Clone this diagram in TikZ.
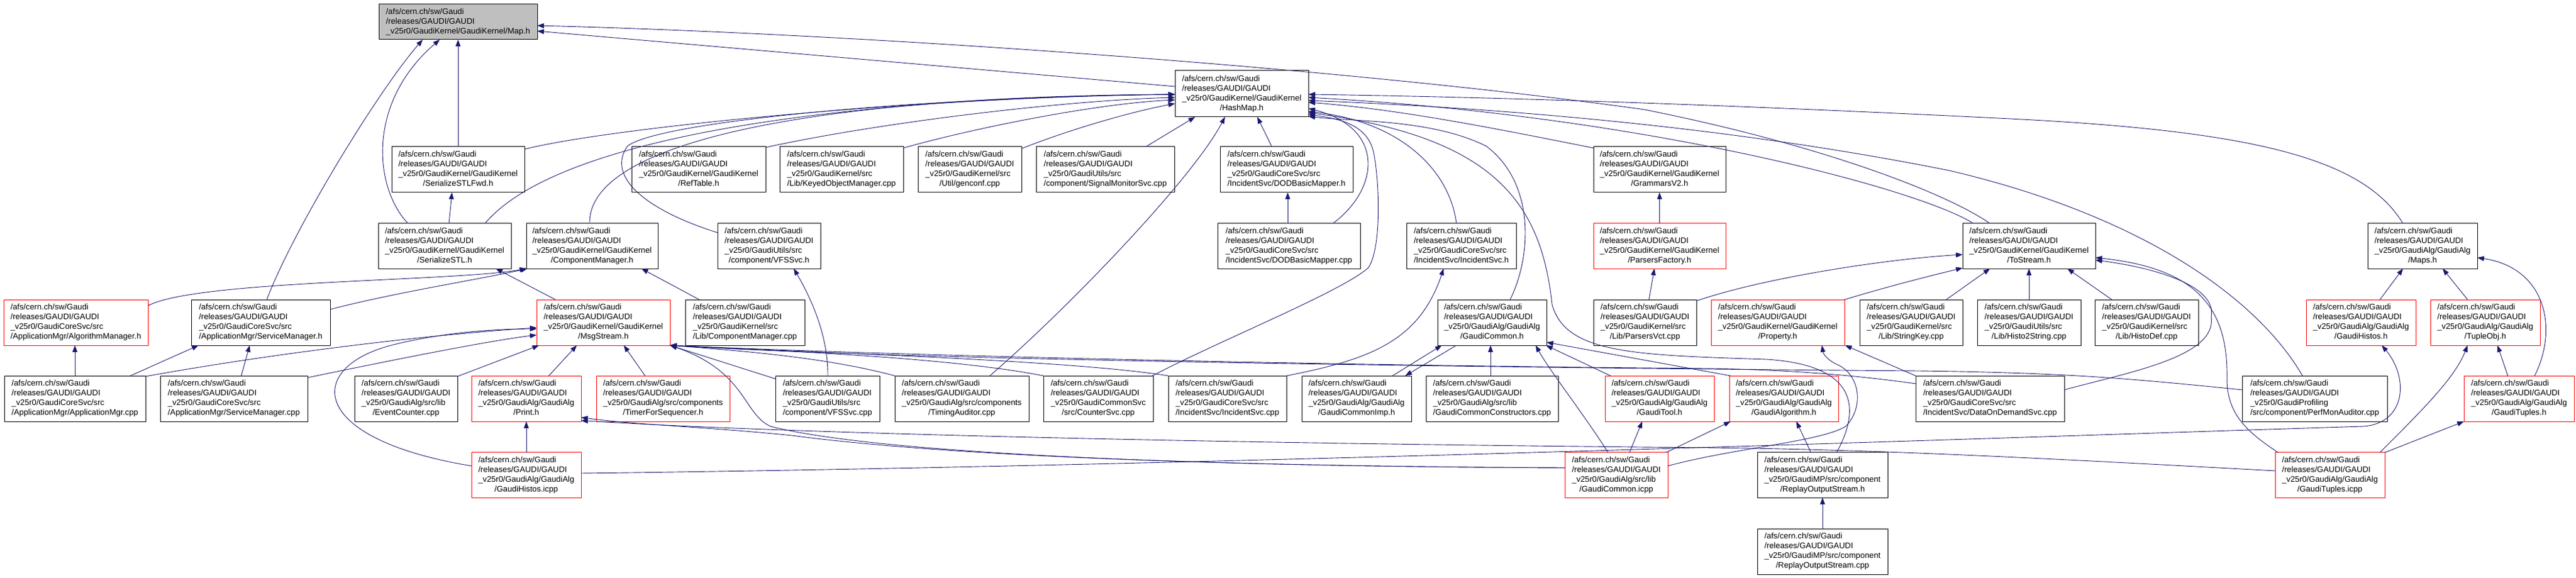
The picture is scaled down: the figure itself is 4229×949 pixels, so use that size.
\documentclass[tikz,border=0pt]{standalone}
\usepackage{fontspec}
\setmainfont{Liberation Sans}
\usetikzlibrary{arrows.meta,calc}
\definecolor{mblue}{RGB}{25,25,112}
\definecolor{gfill}{RGB}{191,191,191}
\newcommand\gl[2]{\begin{tabular}{@{}l@{}}/afs/cern.ch/sw/Gaudi\\/releases/GAUDI/GAUDI\\#1\\\multicolumn{1}{@{}c@{}}{#2}\end{tabular}}
\newcommand\GKGK{\_v25r0/GaudiKernel/GaudiKernel}
\newcommand\GKS{\_v25r0/GaudiKernel/src}
\newcommand\GAGA{\_v25r0/GaudiAlg/GaudiAlg}
\newcommand\GCS{\_v25r0/GaudiCoreSvc/src}
\newcommand\GUS{\_v25r0/GaudiUtils/src}
\begin{document}
\begin{tikzpicture}[x=1pt,y=-1pt,
  nb/.style={draw=black,fill=white,line width=1pt,inner sep=0pt,minimum height=75pt,font={\fontsize{13.3}{16}\selectfont}},
  rb/.style={nb,draw=red},
  dep/.style={draw=mblue,line width=0.9pt,-{Triangle[length=11pt,width=8pt]}}]
\useasboundingbox (0,0) rectangle (4229,949);
% row 0,1
\node[nb,fill=gfill,minimum width=260pt,minimum height=58pt] (map) at (752,36) {\begin{tabular}{@{}l@{}}/afs/cern.ch/sw/Gaudi\\/releases/GAUDI/GAUDI\\\_v25r0/GaudiKernel/GaudiKernel/Map.h\end{tabular}};
\node[nb,minimum width=219pt,minimum height=76pt] (hashmap) at (2038.5,154) {\gl{\GKGK}{/HashMap.h}};
% row 2
\node[nb,minimum width=218pt] (stlfwd) at (752,278.5) {\gl{\GKGK}{/SerializeSTLFwd.h}};
\node[nb,minimum width=220pt] (reftable) at (1147,278.5) {\gl{\GKGK}{/RefTable.h}};
\node[nb,minimum width=203pt] (keyed) at (1381.5,278.5) {\gl{\GKS}{/Lib/KeyedObjectManager.cpp}};
\node[nb,minimum width=170pt] (genconf) at (1592,278.5) {\gl{\GKS}{/Util/genconf.cpp}};
\node[nb,minimum width=227pt] (signal) at (1814.5,278.5) {\gl{\GUS}{/component/SignalMonitorSvc.cpp}};
\node[nb,minimum width=218pt] (dodh) at (2112,278.5) {\gl{\GCS}{/IncidentSvc/DODBasicMapper.h}};
\node[nb,minimum width=217pt] (grammars) at (2724.5,278.5) {\gl{\GKGK}{/GrammarsV2.h}};
% row 3
\node[nb,minimum width=218pt] (stl) at (730,404) {\gl{\GKGK}{/SerializeSTL.h}};
\node[nb,minimum width=216pt] (compmgrh) at (972,404) {\gl{\GKGK}{/ComponentManager.h}};
\node[nb,minimum width=169pt] (vfssvch) at (1262.5,404) {\gl{\GUS}{/component/VFSSvc.h}};
\node[nb,minimum width=234pt] (dodcpp) at (2116,404) {\gl{\GCS}{/IncidentSvc/DODBasicMapper.cpp}};
\node[nb,minimum width=180pt] (incsvch) at (2399,404) {\gl{\GCS}{/IncidentSvc/IncidentSvc.h}};
\node[rb,minimum width=217pt] (parsfact) at (2724.5,404) {\gl{\GKGK}{/ParsersFactory.h}};
\node[nb,minimum width=218pt] (tostream) at (3331,404) {\gl{\GKGK}{/ToStream.h}};
\node[nb,minimum width=180pt] (maps) at (3977,404) {\gl{\GAGA}{/Maps.h}};
% row 4
\node[rb,minimum width=237pt] (algmgr) at (124.5,529.5) {\gl{\GCS}{/ApplicationMgr/AlgorithmManager.h}};
\node[nb,minimum width=228pt] (svcmgrh) at (428,529.5) {\gl{\GCS}{/ApplicationMgr/ServiceManager.h}};
\node[rb,minimum width=219pt] (msgstream) at (990.5,529.5) {\gl{\GKGK}{/MsgStream.h}};
\node[nb,minimum width=196pt] (compmgrcpp) at (1223,529.5) {\gl{\GKS}{/Lib/ComponentManager.cpp}};
\node[nb,minimum width=179pt] (gch) at (2449.5,529.5) {\gl{\GAGA}{/GaudiCommon.h}};
\node[nb,minimum width=169pt] (parsersvct) at (2700.5,529.5) {\gl{\GKS}{/Lib/ParsersVct.cpp}};
\node[rb,minimum width=219pt] (property) at (2918.5,529.5) {\gl{\GKGK}{/Property.h}};
\node[nb,minimum width=169pt] (stringkey) at (3137.5,529.5) {\gl{\GKS}{/Lib/StringKey.cpp}};
\node[nb,minimum width=170pt] (histostr) at (3331,529.5) {\gl{\GUS}{/Lib/Histo2String.cpp}};
\node[nb,minimum width=170pt] (histodef) at (3524,529.5) {\gl{\GKS}{/Lib/HistoDef.cpp}};
\node[rb,minimum width=180pt] (ghh) at (3876,529.5) {\gl{\GAGA}{/GaudiHistos.h}};
\node[rb,minimum width=180pt] (tupleobj) at (4080,529.5) {\gl{\GAGA}{/TupleObj.h}};
% row 5
\node[nb,minimum width=232pt] (appmgr) at (123,654.5) {\gl{\GCS}{/ApplicationMgr/ApplicationMgr.cpp}};
\node[nb,minimum width=242pt] (svcmgrcpp) at (384,654.5) {\gl{\GCS}{/ApplicationMgr/ServiceManager.cpp}};
\node[nb,minimum width=169pt] (evcounter) at (666.5,654.5) {\gl{\_v25r0/GaudiAlg/src/lib}{/EventCounter.cpp}};
\node[rb,minimum width=180pt] (printh) at (864,654.5) {\gl{\GAGA}{/Print.h}};
\node[rb,minimum width=219pt] (timerseq) at (1088.5,654.5) {\gl{\_v25r0/GaudiAlg/src/components}{/TimerForSequencer.h}};
\node[nb,minimum width=171pt] (vfssvccpp) at (1358.5,654.5) {\gl{\GUS}{/component/VFSSvc.cpp}};
\node[nb,minimum width=220pt] (timingaud) at (1579,654.5) {\gl{\_v25r0/GaudiAlg/src/components}{/TimingAuditor.cpp}};
\node[nb,minimum width=180pt] (countersvc) at (1803,654.5) {\gl{\_v25r0/GaudiCommonSvc}{/src/CounterSvc.cpp}};
\node[nb,minimum width=194pt] (incsvccpp) at (2015,654.5) {\gl{\GCS}{/IncidentSvc/IncidentSvc.cpp}};
\node[nb,minimum width=180pt] (gcimp) at (2227,654.5) {\gl{\GAGA}{/GaudiCommonImp.h}};
\node[nb,minimum width=217pt] (gcconstr) at (2449.5,654.5) {\gl{\_v25r0/GaudiAlg/src/lib}{/GaudiCommonConstructors.cpp}};
\node[rb,minimum width=179pt] (gauditool) at (2724.5,654.5) {\gl{\GAGA}{/GaudiTool.h}};
\node[rb,minimum width=179pt] (gaudialg) at (2928.5,654.5) {\gl{\GAGA}{/GaudiAlgorithm.h}};
\node[nb,minimum width=244pt] (dataondemand) at (3267,654.5) {\gl{\GCS}{/IncidentSvc/DataOnDemandSvc.cpp}};
\node[nb,minimum width=238pt] (perfmon) at (3800,654.5) {\gl{\_v25r0/GaudiProfiling}{/src/component/PerfMonAuditor.cpp}};
\node[rb,minimum width=181pt] (gth) at (4135.5,654.5) {\gl{\GAGA}{/GaudiTuples.h}};
% row 6,7
\node[rb,minimum width=180pt] (ghicpp) at (864,780) {\gl{\GAGA}{/GaudiHistos.icpp}};
\node[rb,minimum width=169pt] (gcicpp) at (2653.5,780) {\gl{\_v25r0/GaudiAlg/src/lib}{/GaudiCommon.icpp}};
\node[nb,minimum width=214pt] (replayh) at (2992,780) {\gl{\_v25r0/GaudiMP/src/component}{/ReplayOutputStream.h}};
\node[rb,minimum width=180pt] (gticpp) at (3825,780) {\gl{\GAGA}{/GaudiTuples.icpp}};
\node[nb,minimum width=214pt] (replaycpp) at (2992,905.5) {\gl{\_v25r0/GaudiMP/src/component}{/ReplayOutputStream.cpp}};

% ---- edges into Map.h
\draw[dep] ($(hashmap)+(-109.5,-12)$) -- ($(map)+(130,15)$);
\draw[dep] ($(tostream)+(-64,-37)$) .. controls (3200,320) and (3000,240) .. (2700,180) .. controls (2200,110) and (1400,55) .. ($(map)+(130,6)$);
\draw[dep] ($(stlfwd)+(0,-37.5)$) -- ($(map)+(0,29)$);
\draw[dep] ($(stl)+(-60,-37)$) .. controls (615,310) and (600,170) .. ($(map)+(-30,29)$);
\draw[dep] ($(svcmgrh)+(10,-37.5)$) .. controls (480,380) and (620,150) .. ($(map)+(-58,29)$);
% ---- edges into HashMap.h
\draw[dep] ($(perfmon)+(-20,-37.5)$) .. controls (3700,480) and (3500,350) .. (3200,280) .. controls (2800,200) and (2400,175) .. ($(hashmap)+(109.5,11)$);
\draw[dep] ($(stlfwd)+(109,-33.5)$) .. controls (1000,210) and (1500,160) .. ($(hashmap)+(-109.5,1)$);
\draw[dep] ($(stl)+(66,-37)$) .. controls (920,220) and (1400,160) .. ($(hashmap)+(-109.5,1)$);
\draw[dep] ($(compmgrh)+(-4,-37)$) .. controls (965,230) and (1350,158) .. ($(hashmap)+(-109.5,1)$);
\draw[dep] ($(vfssvch)+(-84.5,-22)$) .. controls (1060,345) and (995,290) .. (1030,240) .. controls (1080,200) and (1500,160) .. ($(hashmap)+(-109.5,1)$);
\draw[dep] ($(reftable)+(110,-36.5)$) .. controls (1450,200) and (1750,165) .. ($(hashmap)+(-109.5,6)$);
\draw[dep] ($(keyed)+(101.5,-35.5)$) .. controls (1600,210) and (1800,170) .. ($(hashmap)+(-109.5,10)$);
\draw[dep] ($(genconf)+(85,-34.5)$) .. controls (1750,215) and (1850,185) .. ($(hashmap)+(-109.5,16)$);
\draw[dep] ($(signal)+(66.5,-37.5)$) -- ($(hashmap)+(-76.5,38)$);
\draw[dep] ($(timingaud)+(46,-37.5)$) .. controls (1760,500) and (1960,290) .. ($(hashmap)+(-27.5,38)$);
\draw[dep] ($(dodh)+(-24,-37.5)$) -- ($(hashmap)+(25.5,38)$);
\draw[dep] ($(maps)+(-32,-37)$) .. controls (3880,260) and (3700,215) .. (3300,195) .. controls (2900,175) and (2500,160) .. ($(hashmap)+(109.5,1)$);
\draw[dep] ($(tostream)+(-91,-37)$) .. controls (3150,310) and (2700,190) .. ($(hashmap)+(109.5,6)$);
\draw[dep] ($(grammars)+(-108.5,-35.5)$) .. controls (2450,210) and (2300,180) .. ($(hashmap)+(109.5,14)$);
\draw[dep] ($(incsvch)+(-8,-37)$) .. controls (2380,280) and (2300,200) .. ($(hashmap)+(109.5,29)$);
\draw[dep] ($(dodcpp)+(72,-37)$) .. controls (2265,310) and (2275,210) .. ($(hashmap)+(109.5,24)$);
\draw[dep] ($(countersvc)+(89,-37.5)$) .. controls (2000,560) and (2200,480) .. (2246,440) .. controls (2268,410) and (2265,300) .. (2255,250) .. controls (2245,205) and (2200,195) .. ($(hashmap)+(109.5,34)$);
\draw[dep] ($(gch)+(29.5,-37.5)$) .. controls (2515,420) and (2520,300) .. (2440,240) .. controls (2350,195) and (2220,200) .. ($(hashmap)+(109.5,37)$);
\draw[dep] ($(replayh)+(23,-37)$) .. controls (3050,680) and (3060,600) .. (2900,590) .. controls (2680,583) and (2570,580) .. (2548,500) .. controls (2530,330) and (2450,225) .. ($(hashmap)+(109.5,31)$);
% ---- other upper edges
\draw[dep] ($(dodcpp)+(-2,-37)$) -- ($(dodh)+(2,37.5)$);
\draw[dep] ($(stl)+(7,-37)$) -- ($(stlfwd)+(-10,37.5)$);
\draw[dep] ($(msgstream)+(-78.5,-37.5)$) -- ($(stl)+(84,37)$);
\draw[dep] ($(algmgr)+(118.5,-27.5)$) .. controls (320,460) and (750,462) .. ($(compmgrh)+(-108,37)$);
\draw[dep] ($(svcmgrh)+(114,-21.5)$) .. controls (650,480) and (780,460) .. ($(compmgrh)+(-106,37)$);
\draw[dep] ($(compmgrcpp)+(-75,-37.5)$) -- ($(compmgrh)+(81,37)$);
\draw[dep] ($(appmgr)+(0,-37.5)$) -- ($(algmgr)+(-1.5,37.5)$);
\draw[dep] ($(appmgr)+(91,-37.5)$) -- ($(svcmgrh)+(-102,37.5)$);
\draw[dep] ($(svcmgrcpp)+(12,-37.5)$) -- ($(svcmgrh)+(-18,37.5)$);
\draw[dep] ($(vfssvccpp)+(0.5,-37.5)$) .. controls (1360,540) and (1320,470) .. ($(vfssvch)+(40.5,37)$);
\draw[dep] ($(incsvccpp)+(97,-37.5)$) .. controls (2250,590) and (2330,560) .. ($(incsvch)+(-29,37)$);
% ---- into MsgStream.h
\draw[dep] ($(appmgr)+(116,-36.5)$) .. controls (450,580) and (700,550) .. ($(msgstream)+(-109.5,8.5)$);
\draw[dep] ($(svcmgrcpp)+(121,-34.5)$) .. controls (650,590) and (800,560) .. ($(msgstream)+(-109.5,20.5)$);
\draw[dep] ($(evcounter)+(84.5,-36.5)$) -- ($(msgstream)+(-105.5,37.5)$);
\draw[dep] ($(printh)+(37,-37.5)$) -- ($(msgstream)+(-43.5,37.5)$);
\draw[dep] ($(timerseq)+(-29.5,-37.5)$) -- ($(msgstream)+(33.5,37.5)$);
\draw[dep] ($(ghicpp)+(-90,-15)$) .. controls (500,720) and (500,600) .. (650,565) .. controls (720,548) and (800,540) .. ($(msgstream)+(-109.5,10.5)$);
\draw[dep] ($(vfssvccpp)+(-85.5,-32.5)$) -- ($(msgstream)+(109.5,37.5)$);
\draw[dep] ($(timingaud)+(-110,-37.5)$) .. controls (1350,585) and (1200,575) .. ($(msgstream)+(109.5,37.5)$);
\draw[dep] ($(countersvc)+(-90,-37.5)$) .. controls (1550,585) and (1250,575) .. ($(msgstream)+(109.5,37.5)$);
\draw[dep] ($(incsvccpp)+(-97,-37.5)$) .. controls (1750,590) and (1300,578) .. ($(msgstream)+(109.5,37.5)$);
\draw[dep] ($(dataondemand)+(-122,-24.5)$) .. controls (3060,618) and (2950,607) .. (2800,605) .. controls (2200,600) and (1500,585) .. ($(msgstream)+(109.5,37.5)$);
\draw[dep] ($(perfmon)+(-119,-14.5)$) .. controls (3500,622) and (3400,612) .. (3150,609) .. controls (2500,604) and (1500,592) .. ($(msgstream)+(109.5,37.5)$);
\draw[dep] ($(gcicpp)+(-84.5,-12)$) .. controls (1800,765) and (1400,735) .. (1265,700) .. controls (1220,680) and (1225,610) .. ($(msgstream)+(109.5,37.5)$);
% ---- Print.h, GaudiHistos
\draw[dep] ($(ghicpp)+(0,-37)$) -- ($(printh)+(0,37.5)$);
\draw[dep] ($(gcicpp)+(-84.5,-12)$) .. controls (1800,765) and (1450,735) .. (1300,715) .. controls (1150,700) and (1050,698) .. ($(printh)+(90,31)$);
\draw[dep] ($(gticpp)+(-90,-7)$) .. controls (3400,755) and (3100,738) .. (2800,735) .. controls (2000,728) and (1300,712) .. ($(printh)+(90,36)$);
\draw[dep] ($(ghicpp)+(90,-3)$) .. controls (2000,765) and (3300,718) .. (3880,700) .. controls (3950,695) and (3955,620) .. ($(ghh)+(34,37.5)$);
% ---- GaudiCommon cluster
\draw[dep] ($(gcimp)+(59,-37.5)$) -- ($(gch)+(-82.5,37.5)$);
\draw[dep] ($(gch)+(-58.5,37.5)$) -- ($(gcimp)+(80,-37.5)$);
\draw[dep] ($(gcconstr)+(-2.5,-37.5)$) -- ($(gch)+(-2.5,37.5)$);
\draw[dep] ($(gcicpp)+(-13.5,-37)$) .. controls (2600,680) and (2545,610) .. ($(gch)+(71.5,37.5)$);
\draw[dep] ($(gauditool)+(-80.5,-37.5)$) -- ($(gch)+(88.5,37.5)$);
\draw[dep] ($(gaudialg)+(-87.5,-37.5)$) -- ($(gch)+(89.5,32.5)$);
\draw[dep] ($(gcicpp)+(21.5,-37)$) -- ($(gauditool)+(-28.5,37.5)$);
\draw[dep] ($(gcicpp)+(81.5,-37)$) -- ($(gaudialg)+(-87.5,37.5)$);
\draw[dep] ($(replayh)+(-19,-37)$) -- ($(gaudialg)+(20.5,37.5)$);
\draw[dep] ($(replaycpp)+(0,-37.5)$) -- ($(replayh)+(0,37)$);
\draw[dep] ($(gcicpp)+(84.5,-15)$) .. controls (2850,735) and (2990,725) .. (3030,700) .. controls (3060,670) and (3055,615) .. (3015,598) .. controls (2998,590) and (2993,580) .. ($(property)+(72.5,37.5)$);
% ---- Property, ToStream, parsers
\draw[dep] ($(dataondemand)+(-122,-37.5)$) -- ($(property)+(110.5,37.5)$);
\draw[dep] ($(dataondemand)+(122,-14.5)$) .. controls (3500,610) and (3640,585) .. (3630,520) .. controls (3640,470) and (3540,440) .. ($(tostream)+(109,23)$);
\draw[dep] ($(gticpp)+(-85,-37)$) .. controls (3690,710) and (3655,680) .. (3656,620) .. controls (3658,500) and (3600,440) .. ($(tostream)+(109,19)$);
\draw[dep] ($(property)+(109.5,-37.5)$) .. controls (3100,470) and (3180,450) .. ($(tostream)+(-109,36)$);
\draw[dep] ($(parsersvct)+(84.5,-35.5)$) .. controls (2900,455) and (3100,425) .. ($(tostream)+(-109,14)$);
\draw[dep] ($(parsersvct)+(6.5,-37.5)$) -- ($(parsfact)+(-8.5,37)$);
\draw[dep] ($(parsfact)+(0,-37)$) -- ($(grammars)+(0,37.5)$);
\draw[dep] ($(stringkey)+(57.5,-37.5)$) -- ($(tostream)+(-64,37)$);
\draw[dep] ($(histostr)+(0,-37.5)$) -- ($(tostream)+(0,37)$);
\draw[dep] ($(histodef)+(-57,-37.5)$) -- ($(tostream)+(63,37)$);
% ---- Maps, tuples
\draw[dep] ($(ghh)+(31,-37.5)$) -- ($(maps)+(-32,37)$);
\draw[dep] ($(tupleobj)+(-29,-37.5)$) -- ($(maps)+(33,37)$);
\draw[dep] ($(gth)+(-18.5,-37.5)$) -- ($(tupleobj)+(20,37.5)$);
\draw[dep] ($(gth)+(25.5,-37.5)$) .. controls (4200,540) and (4180,440) .. ($(maps)+(90,19)$);
\draw[dep] ($(gticpp)+(82,-37)$) .. controls (3980,670) and (4030,620) .. ($(tupleobj)+(-29,37.5)$);
\draw[dep] ($(gticpp)+(90,-37)$) -- ($(gth)+(-90.5,37.5)$);
\end{tikzpicture}
\end{document}
